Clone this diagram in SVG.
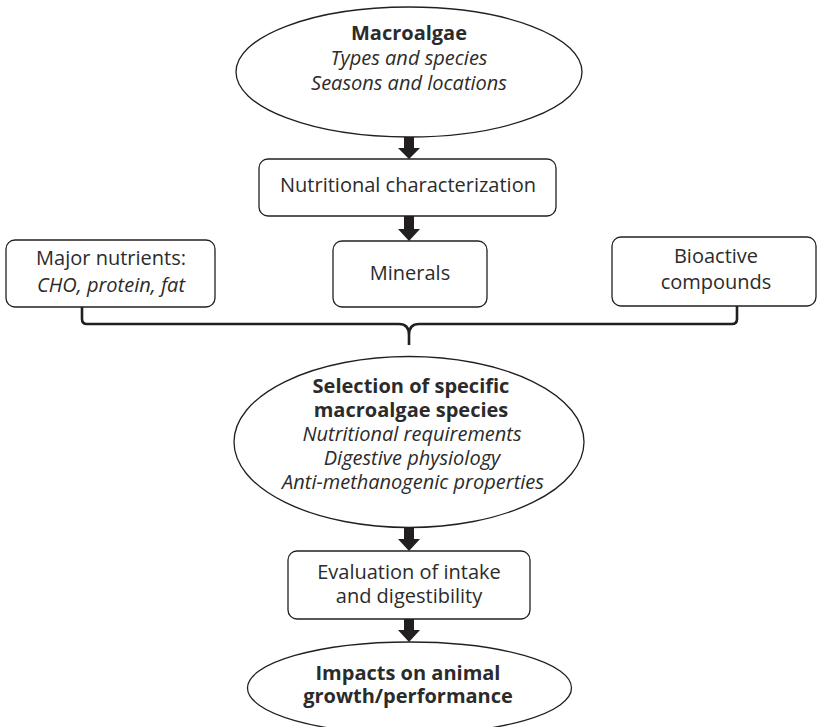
<svg xmlns="http://www.w3.org/2000/svg" width="817" height="727" viewBox="0 0 817 727">
<style>
.node{fill:#fff;stroke:#231f20;stroke-width:1.3}
.t{font-family:"Open Sans","Noto Sans",sans-serif;font-size:20px;fill:#2b2b2b;text-anchor:middle}
.b{font-weight:bold}
.i{font-style:italic}
.arrow{fill:#231f20;stroke:none}
.brace{fill:none;stroke:#231f20;stroke-width:2.6;stroke-linejoin:round}
</style>
<rect width="817" height="727" fill="#fff"/>
<g id="connectors">
<path class="arrow" d="M404,137 H414 V148 H420 L409,159 L398,148 H404 Z"/>
<path class="arrow" d="M404,216 H414 V229 H420 L409,241 L398,229 H404 Z"/>
<path class="arrow" d="M404,528 H414 V539 H420 L409,551 L398,539 H404 Z"/>
<path class="arrow" d="M404,619 H414 V630 H420 L409,642 L398,630 H404 Z"/>
<path class="brace" d="M82,307 V319 Q82,324 87,324 H399 Q409,324 409,335 V345 M409,335 Q409,324 419,324 H732 Q737,324 737,319 V306"/>
</g>
<g id="macroalgae">
<ellipse class="node" cx="409" cy="72" rx="173" ry="65"/>
<text class="t b" x="409" y="40">Macroalgae</text>
<text class="t i" x="409" y="65">Types and species</text>
<text class="t i" x="409" y="90">Seasons and locations</text>
</g>
<g id="nutritional">
<rect class="node" x="259" y="159" width="297" height="57" rx="9"/>
<text class="t" x="408" y="192">Nutritional characterization</text>
</g>
<g id="major">
<rect class="node" x="6" y="240" width="209" height="67" rx="9"/>
<text class="t" x="111" y="265">Major nutrients:</text>
<text class="t i" x="111" y="292">CHO, protein, fat</text>
</g>
<g id="minerals">
<rect class="node" x="333" y="241" width="154" height="66" rx="9"/>
<text class="t" x="410" y="280">Minerals</text>
</g>
<g id="bioactive">
<rect class="node" x="612" y="237" width="204" height="69" rx="9"/>
<text class="t" x="716" y="263">Bioactive</text>
<text class="t" x="716" y="289">compounds</text>
</g>
<g id="selection">
<ellipse class="node" cx="409" cy="442" rx="175" ry="85.5"/>
<text class="t b" x="411" y="393">Selection of specific</text>
<text class="t b" x="411" y="417">macroalgae species</text>
<text class="t i" x="412" y="441">Nutritional requirements</text>
<text class="t i" x="412" y="465">Digestive physiology</text>
<text class="t i" x="413" y="489">Anti-methanogenic properties</text>
</g>
<g id="evaluation">
<rect class="node" x="288" y="551" width="242" height="68" rx="9"/>
<text class="t" x="409" y="579">Evaluation of intake</text>
<text class="t" x="409" y="603">and digestibility</text>
</g>
<g id="impacts">
<ellipse class="node" cx="409.5" cy="688" rx="162" ry="46"/>
<text class="t b" x="408" y="680">Impacts on animal</text>
<text class="t b" x="408" y="703">growth/performance</text>
</g>
</svg>
